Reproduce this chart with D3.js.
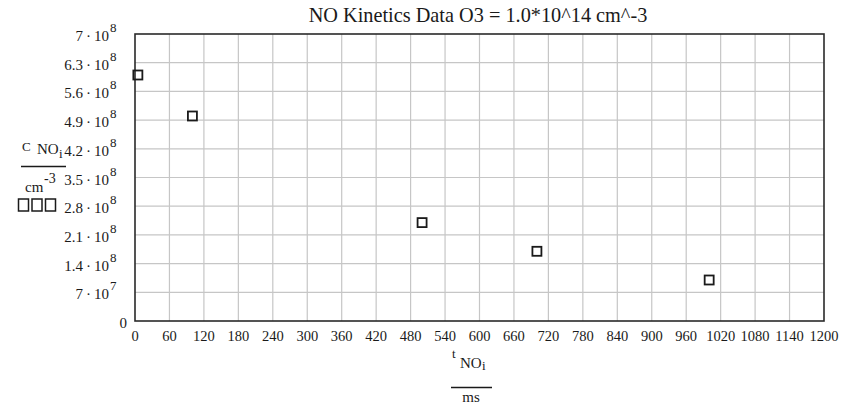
<!DOCTYPE html>
<html lang="en">
<head>
    <meta charset="UTF-8">
    <title>NO Kinetics Data</title>
    <script src="https://d3js.org/d3.v7.min.js"></script>
    <style>
        body { margin: 0; background: #fff; }
        text { font-family: "Liberation Serif", "DejaVu Serif", serif; fill: #1a1a1a; }
    </style>
</head>
<body>
    <div id="chart"></div>
    <script>

        // Data
        var tValues = [5, 100, 500, 700, 1000];            // ms
        var cValues = [6.0e8, 5.0e8, 2.4e8, 1.7e8, 1.0e8];  // cm^-3

        // Tick values
        var xTicks = d3.range(0, 1201, 60);
        var yTicks = d3.range(0, 11).map(function (i) { return i * 7e7; });

        var titleText = "NO Kinetics Data O3 = 1.0*10^14 cm^-3";

        // Dimensions
        var width = 843, height = 407;
        var plot = { left: 135, right: 824, top: 34, bottom: 321 };

        var svg = d3.select("#chart")
            .append("svg")
            .attr("width", width)
            .attr("height", height);

        var x = d3.scaleLinear().domain([0, 1200]).range([plot.left, plot.right]);
        var y = d3.scaleLinear().domain([0, 7e8]).range([plot.bottom, plot.top]);

        // grid
        svg.append("g")
            .selectAll("line")
            .data(xTicks.slice(1, -1))
            .enter()
            .append("line")
            .attr("x1", function (d) { return x(d); })
            .attr("x2", function (d) { return x(d); })
            .attr("y1", plot.top)
            .attr("y2", plot.bottom)
            .attr("stroke", "#c6c6c6")
            .attr("stroke-width", 1.2);

        svg.append("g")
            .selectAll("line")
            .data(yTicks.slice(1, -1))
            .enter()
            .append("line")
            .attr("x1", plot.left)
            .attr("x2", plot.right)
            .attr("y1", function (d) { return y(d); })
            .attr("y2", function (d) { return y(d); })
            .attr("stroke", "#c6c6c6")
            .attr("stroke-width", 1.2);

        // frame
        svg.append("rect")
            .attr("x", plot.left)
            .attr("y", plot.top)
            .attr("width", plot.right - plot.left)
            .attr("height", plot.bottom - plot.top)
            .attr("fill", "none")
            .attr("stroke", "#2a2a2a")
            .attr("stroke-width", 1.6);

        // x tick labels
        svg.append("g")
            .selectAll("text")
            .data(xTicks)
            .enter()
            .append("text")
            .attr("x", function (d) { return x(d); })
            .attr("y", 341)
            .attr("text-anchor", "middle")
            .style("font-size", "14.5px")
            .text(function (d) { return d; });

        // y tick labels  (m·10^e)
        var yLab = svg.append("g")
            .selectAll("g")
            .data(yTicks)
            .enter()
            .append("g");

        yLab.each(function (d) {
            var g = d3.select(this);
            var ty = y(d) + 7;
            if (d === 0) {
                g.append("text").attr("x", 127).attr("y", ty)
                    .attr("text-anchor", "end").style("font-size", "15px").text("0");
                return;
            }
            var e = Math.floor(Math.log10(d) + 1e-9);
            var m = +(d / Math.pow(10, e)).toFixed(2);
            var t = g.append("text").attr("x", 109).attr("y", ty)
                .attr("text-anchor", "end").style("font-size", "15px");
            t.append("tspan").text(m);
            t.append("tspan").attr("dx", 3).text("\u00B7");
            t.append("tspan").attr("dx", 3).text("10");
            g.append("text").attr("x", 110).attr("y", ty - 9)
                .style("font-size", "13px").text(e);
        });

        // data markers
        svg.append("g")
            .selectAll("rect")
            .data(tValues)
            .enter()
            .append("rect")
            .attr("x", function (d) { return x(d) - 4.5; })
            .attr("y", function (d, i) { return y(cValues[i]) - 4.5; })
            .attr("width", 9)
            .attr("height", 9)
            .attr("fill", "none")
            .attr("stroke", "#1a1a1a")
            .attr("stroke-width", 1.8);

        // title
        svg.append("text")
            .attr("x", 478)
            .attr("y", 22)
            .attr("text-anchor", "middle")
            .style("font-size", "20.3px")
            .text(titleText);

        // y axis label: c_NOi / cm^-3
        svg.append("text").attr("x", 22).attr("y", 151).style("font-size", "13px").text("C");
        svg.append("text").attr("x", 37).attr("y", 154).style("font-size", "15px").text("NO");
        svg.append("text").attr("x", 59).attr("y", 158).style("font-size", "13px").text("i");
        svg.append("line").attr("x1", 21).attr("x2", 66).attr("y1", 166.5).attr("y2", 166.5)
            .attr("stroke", "#1a1a1a").attr("stroke-width", 1.5);
        svg.append("text").attr("x", 25).attr("y", 192).style("font-size", "15px").text("cm");
        svg.append("text").attr("x", 44).attr("y", 183).style("font-size", "14px").text("-3");

        // missing-glyph boxes under the label
        svg.append("g")
            .selectAll("rect")
            .data([0, 1, 2])
            .enter()
            .append("rect")
            .attr("x", function (d) { return 18.5 + d * 13.5; })
            .attr("y", 199)
            .attr("width", 10)
            .attr("height", 12)
            .attr("fill", "none")
            .attr("stroke", "#1a1a1a")
            .attr("stroke-width", 1.5);

        // x axis label: t_NOi / ms
        svg.append("text").attr("x", 452).attr("y", 357.5).style("font-size", "13px").text("t");
        svg.append("text").attr("x", 460).attr("y", 367.5).style("font-size", "15px").text("NO");
        svg.append("text").attr("x", 482).attr("y", 370).style("font-size", "13px").text("i");
        svg.append("line").attr("x1", 451).attr("x2", 492).attr("y1", 387.5).attr("y2", 387.5)
            .attr("stroke", "#1a1a1a").attr("stroke-width", 1.5);
        svg.append("text").attr("x", 471).attr("y", 401.5).attr("text-anchor", "middle")
            .style("font-size", "15px").text("ms");

    </script>
</body>
</html>
